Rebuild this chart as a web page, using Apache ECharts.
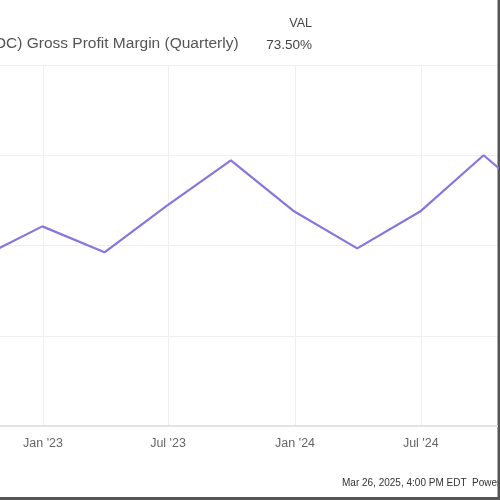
<!DOCTYPE html>
<html>
<head>
<meta charset="utf-8">
<script src="https://cdn.jsdelivr.net/npm/echarts@6/dist/echarts.min.js"></script>
<style>
html,body{margin:0;padding:0;background:#fff;}
#chart{width:500px;height:500px;}
</style>
</head>
<body>
<div id="chart"></div>
<script>
// Quarter-end dates and gross profit margin (%)
var dates = ['2022-09-30','2022-12-31','2023-03-31','2023-06-30','2023-09-30','2023-12-31','2024-03-31','2024-06-30','2024-09-30','2024-12-31'];
var margins = [72.14, 73.03, 72.31, 73.61, 74.86, 73.44, 72.42, 73.44, 75.00, 73.50];
// x-axis tick dates and labels
var tickDates = ['2023-01-01','2023-07-01','2024-01-01','2024-07-01'];
var tickLabels = ["Jan '23", "Jul '23", "Jan '24", "Jul '24"];
var seriesName = 'OC) Gross Profit Margin (Quarterly)';
var valHeader = 'VAL';
var valText = '73.50%';
var footerText = 'Mar 26, 2025, 4:00 PM EDT  Powered by YCHARTS';

var DAY = 86400000;
var jan23 = Date.UTC(2023,0,1);
var xMin = jan23 - 62.3*DAY;
var xMax = jan23 + 657.4*DAY;

var tickTs = tickDates.map(function(d){ return Date.parse(d + 'T00:00:00Z'); });
var data = dates.map(function(d,i){ return [Date.parse(d + 'T00:00:00Z'), margins[i]]; });
var FONT = 'Liberation Sans, Arial, sans-serif';

var chart = echarts.init(document.getElementById('chart'), null, {renderer:'canvas'});
chart.setOption({
  animation:false,
  backgroundColor:'#fff',
  grid:{left:0, right:3, top:65, bottom:74, containLabel:false},
  xAxis:{
    type:'value',
    min:xMin, max:xMax,
    axisLine:{show:true, lineStyle:{color:'#e3e3e3', width:2}},
    axisTick:{show:false, customValues:tickTs},
    splitLine:{show:true, lineStyle:{color:'#efefef', width:1}},
    axisLabel:{
      customValues:tickTs,
      color:'#666', fontSize:12.5, fontFamily:FONT, margin:11,
      formatter:function(v){
        var i = tickTs.indexOf(v);
        return i >= 0 ? tickLabels[i] : '';
      }
    }
  },
  yAxis:{
    type:'value', min:67.5, max:77.5, interval:2.5,
    axisLine:{show:false}, axisTick:{show:false}, axisLabel:{show:false},
    splitLine:{show:true, lineStyle:{color:'#efefef', width:1}}
  },
  series:[{
    type:'line', name:seriesName, data:data, symbol:'none', clip:true,
    lineStyle:{color:'#8a74de', width:2.2}
  }],
  graphic:[
    {type:'text', left:-6, top:36, style:{text:seriesName, fill:'#555', fontSize:15.5, fontFamily:FONT}},
    {type:'text', right:188, top:17, style:{text:valHeader, fill:'#444', fontSize:12.5, fontFamily:FONT}},
    {type:'text', right:188, top:38, style:{text:valText, fill:'#444', fontSize:13.5, fontFamily:FONT}},
    {type:'text', left:342, top:478, style:{text:footerText, fill:'#333', fontSize:10, fontFamily:FONT}},
    {type:'rect', shape:{x:497.5, y:0, width:3, height:500}, style:{fill:'#555'}},
    {type:'rect', shape:{x:0, y:497, width:500, height:3}, style:{fill:'#555'}}
  ]
});
</script>
</body>
</html>
